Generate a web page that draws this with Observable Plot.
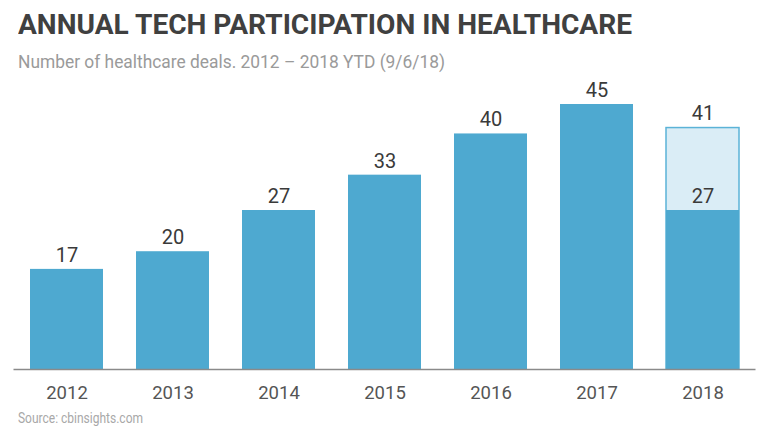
<!DOCTYPE html>
<html><head><meta charset="utf-8">
<script src="https://cdn.jsdelivr.net/npm/d3@7"></script>
<script src="https://cdn.jsdelivr.net/npm/@observablehq/plot@0.6"></script>
<style>
body{margin:0;background:#fff;font-family:Roboto,sans-serif;width:768px;height:434px;overflow:hidden;position:relative}
.t{position:absolute;left:18px;white-space:nowrap;transform-origin:0 0;z-index:2}
#title{top:12px;font-size:27px;line-height:27px;font-weight:700;color:#404040}
#sub{top:53px;font-size:18px;line-height:18px;color:#9a9a9a}
#src{top:411px;font-size:14px;line-height:14px;color:#a8a8a8}
#chart{position:absolute;left:0;top:60px;z-index:1}
</style></head><body>
<div id="title" class="t">ANNUAL TECH PARTICIPATION IN HEALTHCARE</div>
<div id="sub" class="t">Number of healthcare deals. 2012 – 2018 YTD (9/6/18)</div>
<div id="chart"></div>
<div id="src" class="t">Source: cbinsights.com</div>
<script>
const years = ["2012","2013","2014","2015","2016","2017","2018"];
const deals = [17, 20, 27, 33, 40, 45, 27];
const projectedYear = ["2018"];
const projectedDeals = [41];

const data = years.map((y,i)=>({year:y, deals:deals[i]}));
const proj = projectedYear.map((y,i)=>({year:y, deals:projectedDeals[i]}));

const fit = (id, w) => { const el=document.getElementById(id); const a=el.getBoundingClientRect().width; el.style.transform=`scaleX(${w/a})`; };
fit("title", 614); fit("sub", 427); fit("src", 125);

const chart = Plot.plot({
  width: 768, height: 345,
  marginLeft: 13.5, marginRight: 12.5, marginTop: 44, marginBottom: 36,
  style: {fontFamily: "Roboto, sans-serif", background: "transparent"},
  x: {domain: years, paddingInner: 0.31, paddingOuter: 0.155, axis: null},
  y: {domain: [0, 45], axis: null},
  marks: [
    Plot.barY(proj, {x: "year", y: "deals", fill: "#daedf6", stroke: "#5bb3d7", strokeWidth: 1.5}),
    Plot.barY(data, {x: "year", y: "deals", fill: "#4ea9d0"}),
    Plot.ruleY([0], {stroke: "#8a8a8a", strokeWidth: 1.5}),
    Plot.text(data, {x: "year", y: "deals", text: d => String(d.deals), dy: -14, fontSize: 20, fill: "#3a3a3a"}),
    Plot.text(proj, {x: "year", y: "deals", text: d => String(d.deals), dy: -14, fontSize: 20, fill: "#3a3a3a"}),
    Plot.axisX({tickSize: 0, tickPadding: 16, fontSize: 18.5, color: "#555", label: null})
  ]
});
document.getElementById("chart").appendChild(chart);
</script>
</body></html>
